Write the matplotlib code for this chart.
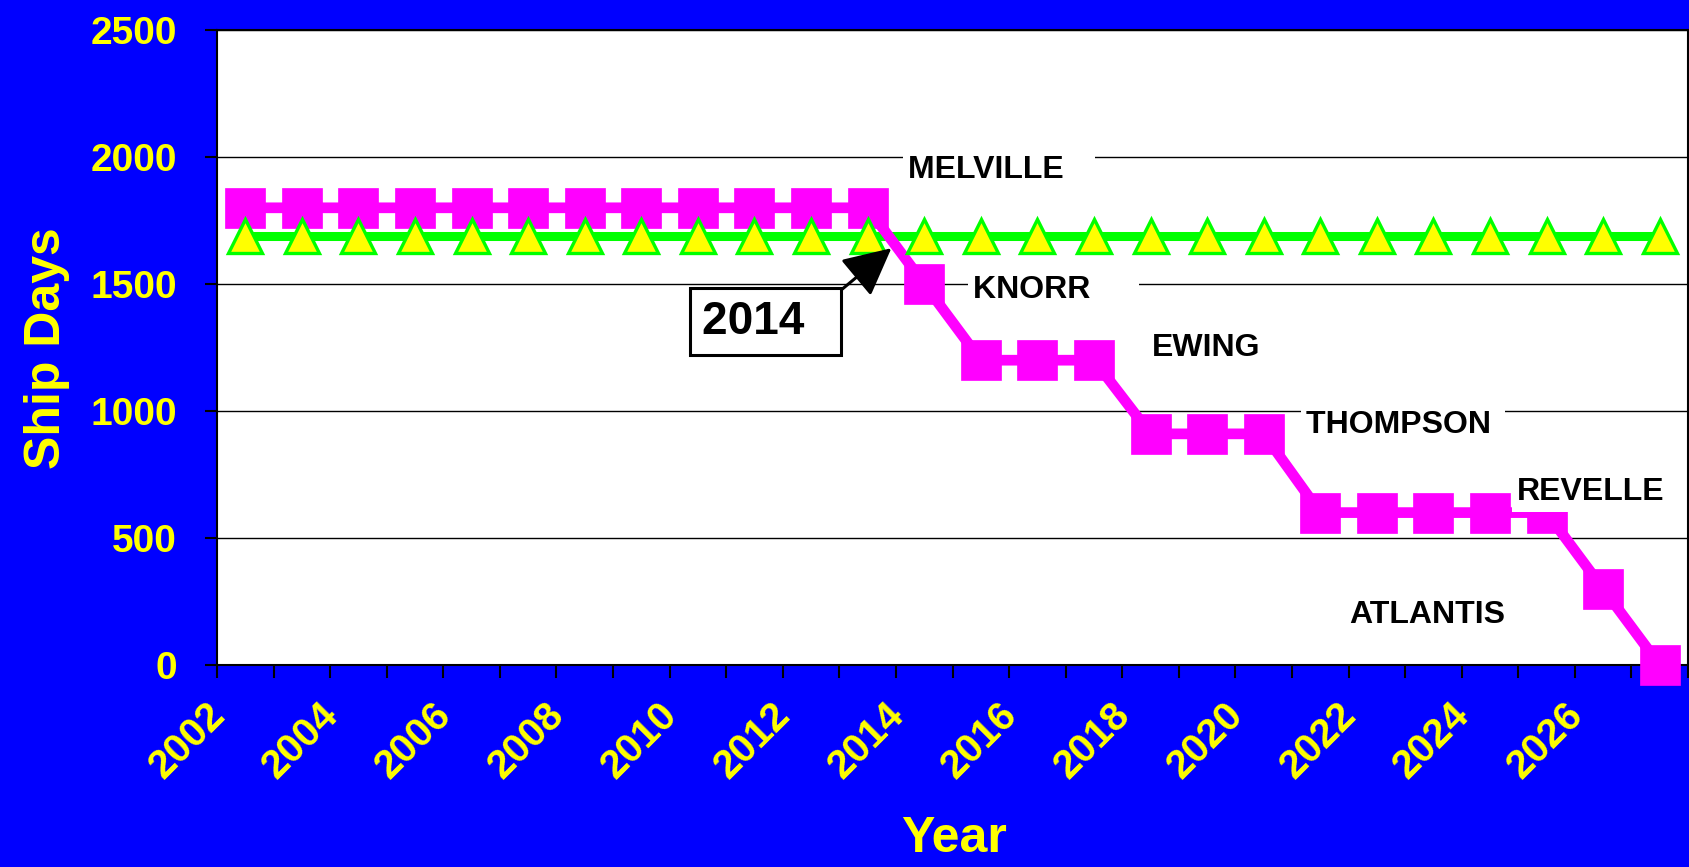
import numpy as np
import matplotlib.pyplot as plt
import matplotlib.transforms as mtransforms

# data
years = list(range(2002, 2028))
ship_days = [1800, 1800, 1800, 1800, 1800, 1800, 1800, 1800, 1800, 1800, 1800, 1800,
             1500, 1200, 1200, 1200, 910, 910, 910, 600, 600, 600, 600, 600, 300, 0]
capacity = [1690] * len(years)
tick_years = [str(y) for y in years[::2]]

ship_names = ['MELVILLE', 'KNORR', 'EWING', 'THOMPSON', 'REVELLE', 'ATLANTIS']
name_x = [11.71, 12.86, 16.03, 18.75, 22.48, 19.52]
name_y = [1917, 1445, 1217, 913, 650, 165]
name_pad = ['   ', '     ', '', ' ', '', '']

plt.rcParams.update({
    'font.family': ['Liberation Sans', 'DejaVu Sans'],
    'font.weight': 'bold',
})

BLUE = '#0000FF'
YELLOW = '#FFFF00'

fig = plt.figure(figsize=(16.9, 8.67), dpi=100, facecolor=BLUE)
ax = fig.add_axes([217 / 1690, 202 / 867, 1471 / 1690, 635 / 867])
ax.set_facecolor('white')

x = np.arange(len(years))

# lines first, then markers (Excel style stacking)
ax.plot(x, capacity, color='#00FF00', lw=6.5, zorder=2, solid_capstyle='butt')
ax.plot(x, ship_days, color='#FF00FF', lw=7.7, zorder=3, solid_joinstyle='miter')
ax.plot(x, ship_days, ls='none', marker='s', ms=28.5, mfc='#FF00FF', mec='#FF00FF',
        mew=0.5, zorder=4, clip_on=False)
ax.plot(x, capacity, ls='none', marker='^', ms=25, mfc=YELLOW, mec='#00FF00',
        mew=2.4, zorder=5, clip_on=False)

ax.set_xlim(-0.5, len(years) - 0.5)
ax.set_ylim(0, 2500)
ax.set_yticks(np.arange(0, 2501, 500))
ax.yaxis.grid(True, color='black', lw=1.0)
ax.set_axisbelow(True)

ax.set_xticks(x[::2])
ax.set_xticklabels(tick_years, rotation=45, ha='right', va='top')
ax.set_xticks(np.arange(-0.5, len(years)), minor=True)
ax.tick_params(axis='x', which='major', length=0, pad=22, labelsize=29, labelcolor=YELLOW)
ax.tick_params(axis='x', which='minor', length=9, width=1.5, direction='out', color='black')
ax.tick_params(axis='y', length=9, width=1.5, direction='out', color='black',
               pad=20, labelsize=28, labelcolor=YELLOW)
shift = mtransforms.ScaledTranslation(-13 / 100, 0, fig.dpi_scale_trans)
for lab in ax.get_xticklabels():
    lab.set_transform(lab.get_transform() + shift)
    lab.set_fontweight('bold')
for lab in ax.get_yticklabels():
    lab.set_fontweight('bold')

for sp in ax.spines.values():
    sp.set_color('black')
    sp.set_linewidth(1.5)

# ship name labels
for name, nx, ny, pad in zip(ship_names, name_x, name_y, name_pad):
    ax.text(nx, ny, name + pad, fontsize=23, fontweight='bold', color='black',
            ha='left', va='baseline', zorder=6,
            bbox=dict(boxstyle='square,pad=0.15', fc='white', ec='none'))

# 2014 callout
ax.annotate('2014  ', xy=(11.42, 1641), xytext=(8.07, 1305),
            fontsize=33, fontweight='bold', color='black', ha='left', va='baseline',
            zorder=7,
            bbox=dict(boxstyle='square,pad=0.25', fc='white', ec='black', lw=2.2),
            arrowprops=dict(arrowstyle='-|>,head_length=0.9,head_width=0.45', color='black',
                            lw=2.2, relpos=(1, 1), shrinkA=0, shrinkB=0))

fig.text(60 / 1690, 1 - 347.7 / 867, 'Ship Days', rotation=90, rotation_mode='anchor',
         ha='center', va='baseline', fontsize=36, fontweight='bold', color=YELLOW)
fig.text(954 / 1690, 1 - 851.7 / 867, 'Year', ha='center', va='baseline',
         fontsize=36, fontweight='bold', color=YELLOW)

fig.savefig('out.png', dpi=100, facecolor=BLUE)
